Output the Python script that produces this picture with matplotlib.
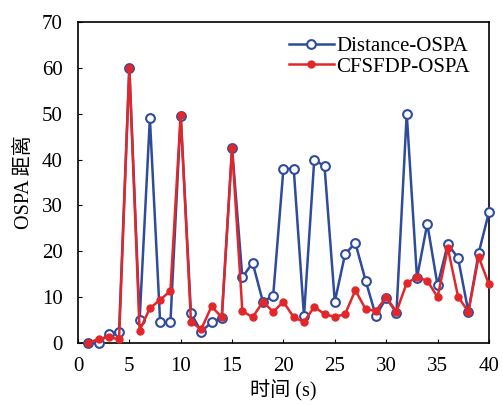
import matplotlib
matplotlib.use("Agg")
import matplotlib.pyplot as plt

# fonts: serif for latin, CJK fallback for the Chinese labels
plt.rcParams['font.family'] = ['Liberation Serif', 'Noto Sans CJK SC']
plt.rcParams['axes.unicode_minus'] = False

# time steps (s)
t = list(range(1, 41))

# OSPA distance
distance_ospa = [0, 0, 2, 2.5, 60, 5, 49, 4.5, 4.5, 49.5,
                 6.5, 2.5, 4.5, 5.5, 42.5, 14.3, 17.5, 9, 10.3, 38,
                 38, 5.9, 40, 38.5, 9, 19.4, 21.8, 13.6, 5.9, 9.8,
                 6.6, 50, 14.2, 26, 12.6, 21.6, 18.5, 6.8, 19.6, 28.5]
cfsfdp_ospa = [0, 0.9, 1.3, 0.8, 60, 2.7, 7.6, 9.4, 11.4, 49.8,
               4.6, 3, 8, 5.6, 42.5, 7, 5.6, 9, 6.8, 9,
               5.6, 4.6, 7.9, 6.3, 5.7, 6.3, 11.5, 7.4, 7, 10,
               6.8, 13.1, 14.3, 13.6, 10, 20.7, 10.1, 6.8, 18.8, 12.8]

x_ticks = [0, 5, 10, 15, 20, 25, 30, 35, 40]
y_ticks = [0, 10, 20, 30, 40, 50, 60, 70]

blue = '#2f4c9c'
red = '#e2272b'

fig = plt.figure(figsize=(5.03, 4.05), dpi=100)
ax = fig.add_axes([0.155, 0.153, 0.817, 0.793])

ax.plot(t, distance_ospa, color=blue, lw=1.8, marker='o', ms=6.3,
        mfc='white', mec=blue, mew=1.5, label='Distance-OSPA', clip_on=False, zorder=3)
ax.plot(t, cfsfdp_ospa, color=red, lw=1.8, marker='o', ms=5,
        mfc=red, mec=red, label='CFSFDP-OSPA', clip_on=False, zorder=4)

ax.set_xlim(0, 40)
ax.set_ylim(0, 70)
ax.set_xticks(x_ticks)
ax.set_yticks(y_ticks)
ax.tick_params(direction='in', length=3, labelsize=15, width=0.8)
ax.tick_params(axis='x', pad=10)
ax.tick_params(axis='y', pad=11)
for s in ax.spines.values():
    s.set_linewidth(1.2)

ax.set_xlabel('时间 (s)', fontsize=14.5, labelpad=3)
ax.set_ylabel('OSPA 距离', fontsize=14.5, labelpad=6)

ax.legend(loc='upper right', frameon=False, fontsize=15, handlelength=2.2,
          handletextpad=0.1, labelspacing=0.05, borderaxespad=0.3,
          bbox_to_anchor=(0.99, 1.0))

fig.savefig('out.png', dpi=100)
plt.close()
